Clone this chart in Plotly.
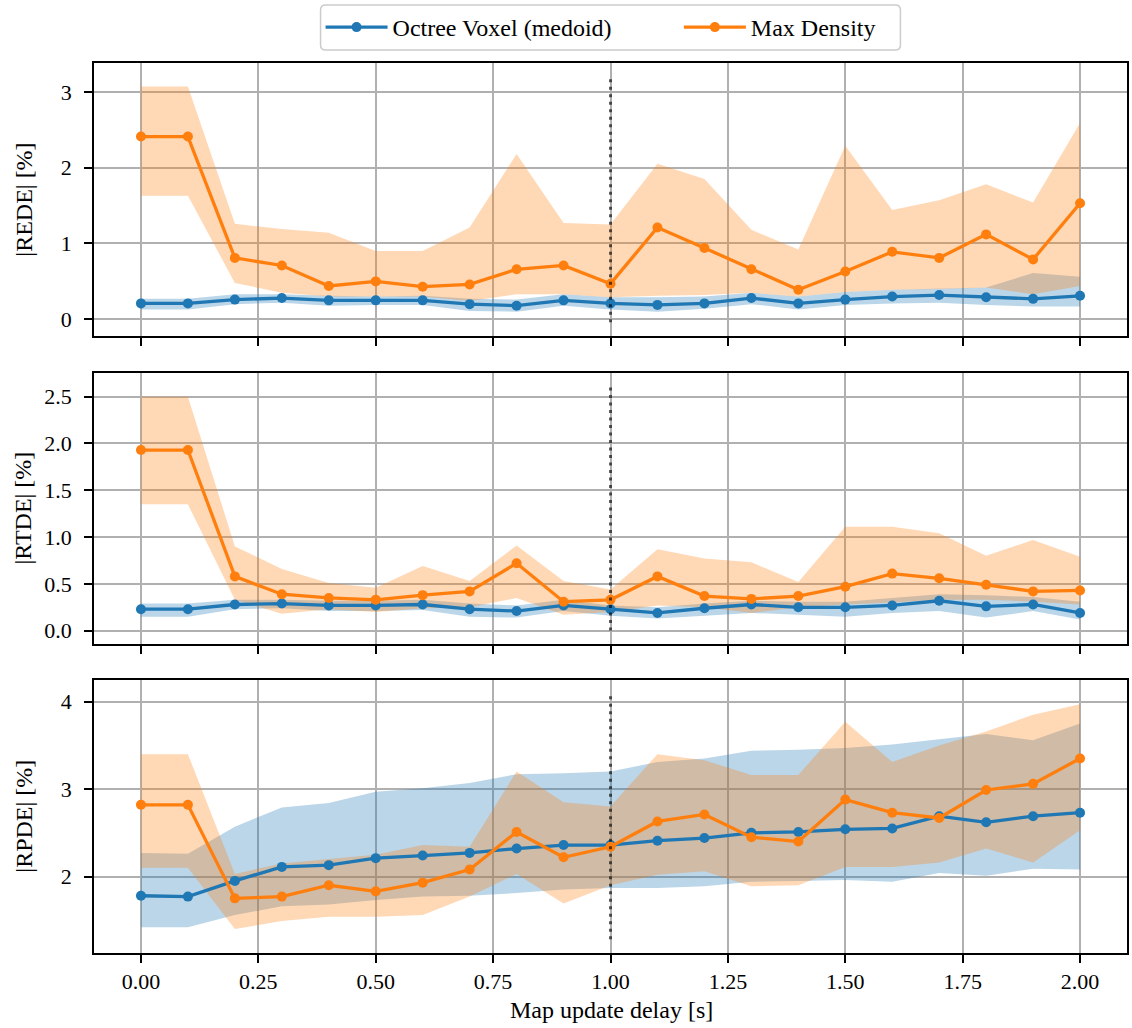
import plotly.graph_objects as go

# ---------------- data ----------------
delay = [0.0, 0.1, 0.2, 0.3, 0.4, 0.5, 0.6, 0.7, 0.8, 0.9, 1.0,
         1.1, 1.2, 1.3, 1.4, 1.5, 1.6, 1.7, 1.8, 1.9, 2.0]

oct_rede_mean = [0.21, 0.21, 0.26, 0.28, 0.25, 0.25, 0.25, 0.20, 0.18, 0.25, 0.21,
                 0.19, 0.21, 0.28, 0.21, 0.26, 0.30, 0.32, 0.29, 0.27, 0.31]
oct_rede_lo = [0.13, 0.13, 0.20, 0.22, 0.18, 0.19, 0.19, 0.11, 0.10, 0.18, 0.13,
               0.10, 0.14, 0.20, 0.13, 0.19, 0.21, 0.22, 0.19, 0.17, 0.17]
oct_rede_hi = [0.27, 0.27, 0.33, 0.33, 0.31, 0.30, 0.31, 0.27, 0.26, 0.33, 0.29,
               0.29, 0.30, 0.35, 0.30, 0.36, 0.39, 0.40, 0.42, 0.61, 0.56]
md_rede_mean = [2.41, 2.41, 0.81, 0.71, 0.44, 0.50, 0.43, 0.46, 0.66, 0.71, 0.47,
                1.21, 0.94, 0.66, 0.39, 0.63, 0.89, 0.81, 1.12, 0.79, 1.53]
md_rede_lo = [1.63, 1.63, 0.48, 0.35, 0.30, 0.30, 0.30, 0.24, 0.33, 0.33, 0.29,
              0.31, 0.32, 0.35, 0.30, 0.36, 0.39, 0.40, 0.42, 0.33, 0.44]
md_rede_hi = [3.07, 3.07, 1.26, 1.19, 1.14, 0.90, 0.90, 1.21, 2.18, 1.27, 1.25,
              2.05, 1.85, 1.18, 0.92, 2.29, 1.44, 1.57, 1.78, 1.54, 2.59]

oct_rtde_mean = [0.23, 0.23, 0.28, 0.29, 0.27, 0.27, 0.28, 0.23, 0.21, 0.27, 0.23,
                 0.19, 0.24, 0.28, 0.25, 0.25, 0.27, 0.32, 0.26, 0.28, 0.19]
oct_rtde_lo = [0.15, 0.15, 0.23, 0.24, 0.21, 0.21, 0.22, 0.15, 0.14, 0.21, 0.16,
               0.13, 0.16, 0.19, 0.17, 0.15, 0.19, 0.21, 0.14, 0.21, 0.12]
oct_rtde_hi = [0.29, 0.29, 0.33, 0.33, 0.32, 0.32, 0.33, 0.29, 0.27, 0.33, 0.27,
               0.25, 0.29, 0.32, 0.31, 0.31, 0.35, 0.39, 0.38, 0.36, 0.31]
md_rtde_mean = [1.93, 1.93, 0.58, 0.39, 0.35, 0.33, 0.38, 0.42, 0.72, 0.31, 0.33,
                0.58, 0.37, 0.34, 0.37, 0.47, 0.61, 0.56, 0.49, 0.42, 0.43]
md_rtde_lo = [1.35, 1.35, 0.33, 0.18, 0.23, 0.20, 0.24, 0.25, 0.35, 0.17, 0.20,
              0.27, 0.25, 0.19, 0.25, 0.28, 0.30, 0.33, 0.33, 0.31, 0.28]
md_rtde_hi = [2.50, 2.50, 0.90, 0.66, 0.51, 0.46, 0.69, 0.53, 0.91, 0.53, 0.44,
              0.87, 0.77, 0.73, 0.52, 1.11, 1.11, 1.04, 0.80, 0.97, 0.79]

oct_rpde_mean = [1.78, 1.77, 1.95, 2.11, 2.13, 2.21, 2.24, 2.27, 2.32, 2.36, 2.36,
                 2.41, 2.44, 2.50, 2.51, 2.54, 2.55, 2.69, 2.62, 2.69, 2.73]
oct_rpde_lo = [1.42, 1.42, 1.56, 1.66, 1.68, 1.73, 1.77, 1.78, 1.81, 1.85, 1.87,
               1.87, 1.89, 1.94, 1.95, 1.96, 1.94, 2.04, 2.01, 2.09, 2.08]
oct_rpde_hi = [2.27, 2.26, 2.57, 2.79, 2.84, 2.97, 3.01, 3.07, 3.17, 3.18, 3.20,
               3.31, 3.35, 3.44, 3.45, 3.47, 3.51, 3.57, 3.63, 3.56, 3.75]
md_rpde_mean = [2.82, 2.82, 1.75, 1.77, 1.90, 1.83, 1.93, 2.08, 2.51, 2.22, 2.34,
                2.63, 2.71, 2.45, 2.40, 2.88, 2.73, 2.67, 2.99, 3.06, 3.35]
md_rpde_lo = [2.10, 2.10, 1.40, 1.49, 1.54, 1.54, 1.56, 1.77, 2.03, 1.69, 1.90,
              2.02, 2.06, 1.89, 1.90, 2.11, 2.11, 2.16, 2.32, 2.16, 2.53]
md_rpde_hi = [3.40, 3.40, 2.03, 2.15, 2.20, 2.25, 2.36, 2.34, 3.20, 2.85, 2.80,
              3.40, 3.33, 3.16, 3.16, 3.77, 3.31, 3.50, 3.66, 3.85, 3.97]

series_names = ["Octree Voxel (medoid)", "Max Density"]
panel_labels = ["|REDE| [%]", "|RTDE| [%]", "|RPDE| [%]"]
x_label = "Map update delay [s]"
marker_delay = 1.0

panels = [
    (oct_rede_mean, oct_rede_lo, oct_rede_hi, md_rede_mean, md_rede_lo, md_rede_hi),
    (oct_rtde_mean, oct_rtde_lo, oct_rtde_hi, md_rtde_mean, md_rtde_lo, md_rtde_hi),
    (oct_rpde_mean, oct_rpde_lo, oct_rpde_hi, md_rpde_mean, md_rpde_lo, md_rpde_hi),
]

# ---------------- style ----------------
C0 = "#1f77b4"
C1 = "#ff7f0e"
F0 = "rgba(31,119,180,0.3)"
F1 = "rgba(255,127,14,0.3)"
FONT = "Liberation Serif"
TICK_SIZE = 22
LABEL_SIZE = 24
LW = 3.3
MS = 10

W, H = 1132, 1028
ML, MR, MT, MB = 94, 3, 63, 75
plot_w = W - ML - MR
plot_h = H - MT - MB
px = [(63.0, 336.0), (372.7, 644.0), (680.0, 953.0)]

def py2paper(p):
    return (H - MB - p) / plot_h

def px2paper(p):
    return (p - ML) / plot_w

def dom(t, b):
    return [max(0.0, min(1.0, py2paper(b))), max(0.0, min(1.0, py2paper(t)))]

y_ranges = [[-0.22, 3.38], [-0.142, 2.756], [1.125, 4.248]]
y_dticks = [1, 0.5, 1]
y_fmts = ["d", ".1f", "d"]

fig = go.Figure()

for i, (om, olo, ohi, mm, mlo, mhi) in enumerate(panels):
    ax = "" if i == 0 else str(i + 1)
    xa, ya = "x" + ax, "y" + ax
    fig.add_trace(go.Scatter(x=delay, y=olo, xaxis=xa, yaxis=ya, mode="lines",
                             line=dict(width=0, color=F0), showlegend=False, hoverinfo="skip"))
    fig.add_trace(go.Scatter(x=delay, y=ohi, xaxis=xa, yaxis=ya, mode="lines",
                             line=dict(width=0, color=F0), fill="tonexty", fillcolor=F0,
                             showlegend=False, hoverinfo="skip"))
    fig.add_trace(go.Scatter(x=delay, y=mlo, xaxis=xa, yaxis=ya, mode="lines",
                             line=dict(width=0, color=F1), showlegend=False, hoverinfo="skip"))
    fig.add_trace(go.Scatter(x=delay, y=mhi, xaxis=xa, yaxis=ya, mode="lines",
                             line=dict(width=0, color=F1), fill="tonexty", fillcolor=F1,
                             showlegend=False, hoverinfo="skip"))
    fig.add_trace(go.Scatter(x=delay, y=om, xaxis=xa, yaxis=ya, mode="lines+markers",
                             name=series_names[0], line=dict(color=C0, width=LW),
                             marker=dict(color=C0, size=MS), showlegend=(i == 0),
                             legend="legend"))
    fig.add_trace(go.Scatter(x=delay, y=mm, xaxis=xa, yaxis=ya, mode="lines+markers",
                             name=series_names[1], line=dict(color=C1, width=LW),
                             marker=dict(color=C1, size=MS), showlegend=(i == 0),
                             legend="legend2"))
    fig.add_shape(type="line", xref=xa, yref=ya + " domain", x0=marker_delay, x1=marker_delay,
                  y0=0.05, y1=0.95,
                  line=dict(color="rgba(0,0,0,0.62)", width=3, dash="3px,4.5px"))
    t, b = px[i]
    fig.add_annotation(text=panel_labels[i], xref="paper", yref="paper",
                       x=px2paper(23), y=py2paper((t + b) / 2), xanchor="center",
                       yanchor="middle", textangle=-90, showarrow=False,
                       font=dict(family=FONT, size=LABEL_SIZE, color="black"))

fig.add_annotation(text=x_label, xref="paper", yref="paper",
                   x=px2paper(612.5), y=py2paper(1010), xanchor="center", yanchor="middle",
                   showarrow=False, font=dict(family=FONT, size=LABEL_SIZE, color="black"))

# legend frame (rounded rectangle)
bx0, bx1 = px2paper(321), px2paper(902)
by0, by1 = py2paper(50), py2paper(5)
rx, ry = 5 / plot_w, 5 / plot_h
path = (f"M{bx0+rx},{by0} L{bx1-rx},{by0} Q{bx1},{by0} {bx1},{by0+ry} "
        f"L{bx1},{by1-ry} Q{bx1},{by1} {bx1-rx},{by1} L{bx0+rx},{by1} "
        f"Q{bx0},{by1} {bx0},{by1-ry} L{bx0},{by0+ry} Q{bx0},{by0} {bx0+rx},{by0} Z")
fig.add_shape(type="path", path=path, xref="paper", yref="paper",
              line=dict(color="#cccccc", width=1.5), fillcolor="white", layer="above")

axis_common = dict(showline=True, linecolor="black", linewidth=1.5, mirror=True,
                   ticks="outside", ticklen=8, tickwidth=1.5, tickcolor="black",
                   showgrid=True, gridcolor="#b0b0b0", gridwidth=1.5, zeroline=False,
                   tickfont=dict(family=FONT, size=TICK_SIZE, color="black"))

leg_common = dict(orientation="h", yanchor="middle", y=py2paper(27.5), xanchor="left",
                  bgcolor="rgba(0,0,0,0)", borderwidth=0, itemwidth=62,
                  font=dict(family=FONT, size=LABEL_SIZE, color="black"))

layout = dict(width=W, height=H, margin=dict(l=ML, r=MR, t=MT, b=MB),
              plot_bgcolor="white", paper_bgcolor="white",
              font=dict(family=FONT, size=LABEL_SIZE, color="black"),
              legend=dict(leg_common, x=px2paper(321)),
              legend2=dict(leg_common, x=px2paper(680)))

for i in range(3):
    ax = "" if i == 0 else str(i + 1)
    d = dom(*px[i])
    xa = dict(axis_common, domain=[0, 1], range=[-0.1, 2.1], tick0=0, dtick=0.25,
              tickformat=".2f", anchor="y" + ax, showticklabels=(i == 2),
              ticklabelstandoff=0)
    if i != 2:
        xa["matches"] = "x3"
    ya = dict(axis_common, domain=d, range=y_ranges[i], dtick=y_dticks[i], tick0=0,
              tickformat=y_fmts[i], anchor="x" + ax, ticklabelstandoff=8)
    layout["xaxis" + ax] = xa
    layout["yaxis" + ax] = ya

fig.update_layout(**layout)
fig.write_html("out.html")
